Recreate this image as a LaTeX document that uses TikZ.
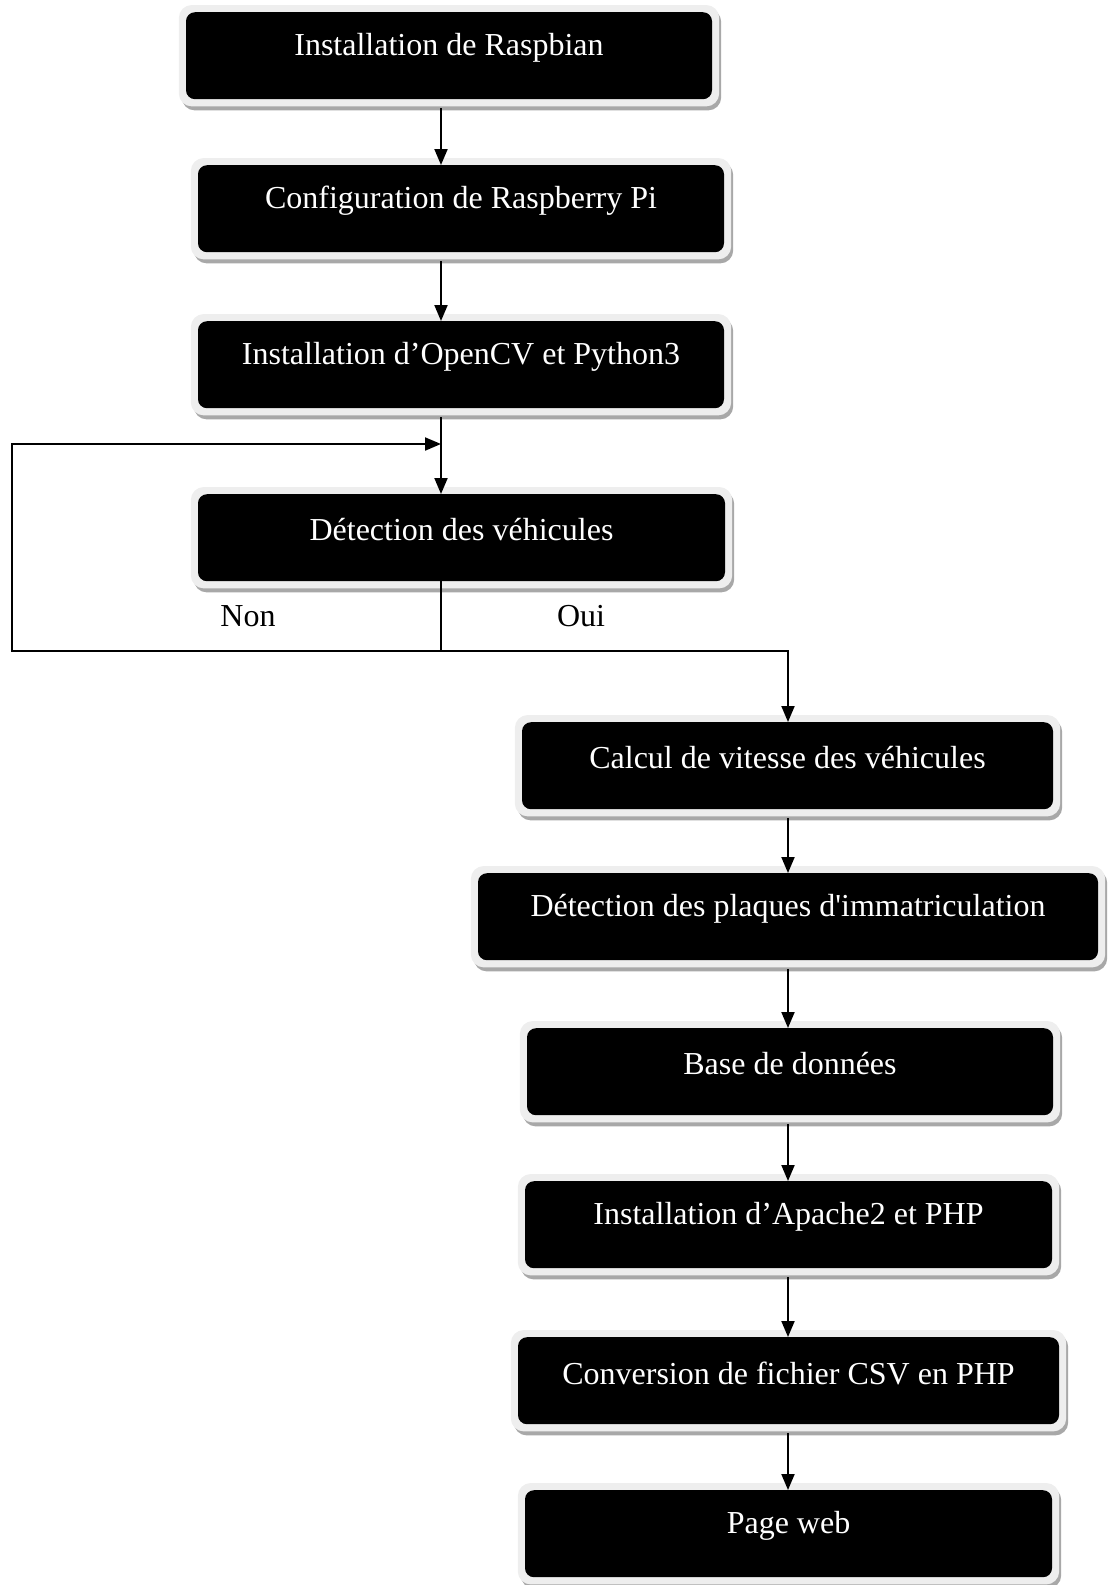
\documentclass[tikz,border=0pt]{standalone}
\usepackage{fontspec}
\setmainfont{Liberation Serif}[Ligatures=TeXOff]
\usetikzlibrary{arrows.meta,backgrounds}
\definecolor{framec}{HTML}{EEEEEE}
\definecolor{shadowc}{HTML}{A8A8A8}
\tikzset{
  blk/.style={fill=black, rounded corners=9pt, minimum height=87pt, inner sep=0pt},
  txt/.style={text=white, inner sep=0pt, font=\fontsize{32}{38}\selectfont},
  lbl/.style={text=black, inner sep=0pt, font=\fontsize{32}{38}\selectfont},
  conn/.style={line width=2pt},
  arr/.style={line width=2pt, -{Triangle[width=13pt,length=16pt]}},
}
\newcommand{\flowstep}[5]{%
  \node[blk, minimum width=#4pt, anchor=north] (#1) at (#2,#3) {};
  \node[txt] (#1t) at ([yshift=-36pt]#1.north) {#5};
  \begin{scope}[on background layer]
    \fill[shadowc, rounded corners=13pt] ([xshift=-4pt,yshift=3pt]#1.north west) rectangle ([xshift=9pt,yshift=-11pt]#1.south east);
    \fill[framec, rounded corners=13pt] ([xshift=-7pt,yshift=7pt]#1.north west) rectangle ([xshift=7pt,yshift=-7pt]#1.south east);
  \end{scope}
}
\begin{document}
\begin{tikzpicture}[x=1pt,y=-1pt]
\useasboundingbox (0,0) rectangle (1110,1585);
\flowstep{b1}{449}{12}{526}{Installation de Raspbian}
\flowstep{b2}{461}{165}{526}{Configuration de Raspberry Pi}
\flowstep{b3}{461}{321}{526}{Installation d’OpenCV et Python3}
\flowstep{b4}{461.5}{494}{527}{Détection des véhicules}
\flowstep{b5}{787.5}{722}{531}{Calcul de vitesse des véhicules}
\flowstep{b6}{788}{873}{620}{Détection des plaques d'immatriculation}
\flowstep{b7}{790}{1028}{526}{Base de données}
\flowstep{b8}{788.5}{1181}{527}{Installation d’Apache2 et PHP}
\flowstep{b9}{788.5}{1337}{541}{Conversion de fichier CSV en PHP}
\flowstep{b10}{788.5}{1490}{527}{Page web}

\coordinate (xa) at (441,0);
\coordinate (xb) at (788,0);
\coordinate (j) at (441,651);
\coordinate (l) at (12,651);
\coordinate (lt) at (12,444);
\coordinate (m) at (441,444);

\draw[arr] ([yshift=-9pt]b1.south -| xa) -- (b2.north -| xa);
\draw[arr] ([yshift=-9pt]b2.south -| xa) -- (b3.north -| xa);
\draw[arr] ([yshift=-9pt]b3.south -| xa) -- (b4.north -| xa);
\draw[conn] (b4.south -| xa) -- (j);
\draw[arr] (j) -- (l) -- (lt) -- (m);
\draw[arr] (j) -| (b5.north -| xb);
\draw[arr] ([yshift=-9pt]b5.south -| xb) -- (b6.north -| xb);
\draw[arr] ([yshift=-9pt]b6.south -| xb) -- (b7.north -| xb);
\draw[arr] ([yshift=-9pt]b7.south -| xb) -- (b8.north -| xb);
\draw[arr] ([yshift=-9pt]b8.south -| xb) -- (b9.north -| xb);
\draw[arr] ([yshift=-9pt]b9.south -| xb) -- (b10.north -| xb);

\node[lbl] (non) at (248,616) {Non};
\node[lbl] (oui) at (581,616) {Oui};
\end{tikzpicture}
\end{document}
